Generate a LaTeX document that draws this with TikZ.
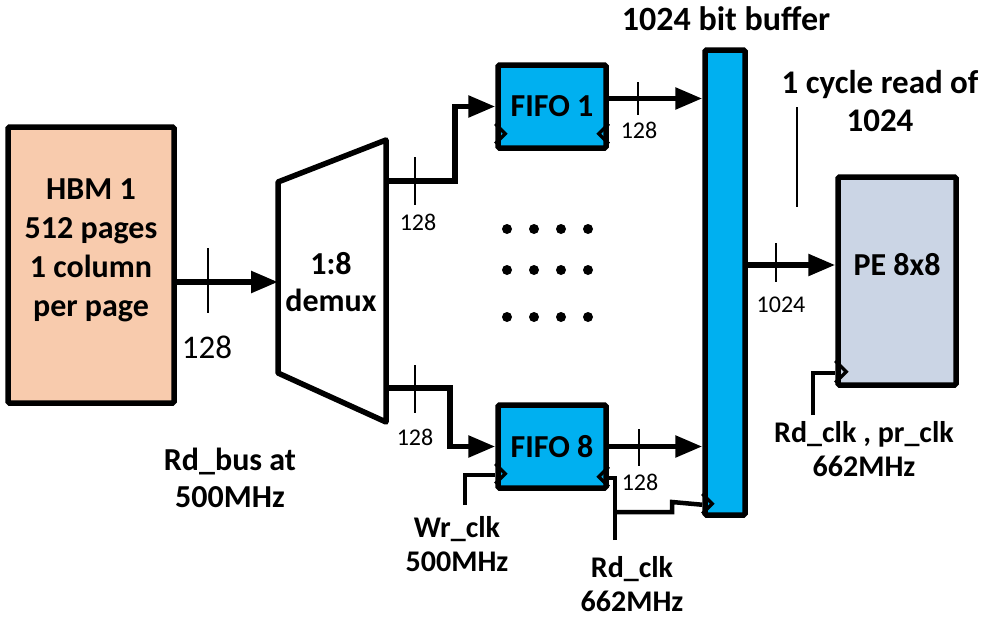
\documentclass[tikz,border=0pt]{standalone}
\usepackage{fontspec}
\setmainfont{Carlito}
\usetikzlibrary{positioning, arrows.meta}

\definecolor{hbmfill}{HTML}{F8CBAD}
\definecolor{fifofill}{HTML}{00B0F0}
\definecolor{pefill}{HTML}{CBD5E5}

\begin{document}
\begin{tikzpicture}[x=1pt, y=-1pt,
    blk/.style={draw, line width=5.5pt, rounded corners=1.5pt, inner sep=0pt, align=center, font=\bfseries\fontsize{32}{39}\selectfont},
    fifo/.style={blk, fill=fifofill, minimum width=108pt, minimum height=83pt},
    lbl/.style={align=center, font=\bfseries\fontsize{32}{37}\selectfont},
    clklbl/.style={align=center, font=\bfseries\fontsize{30}{34}\selectfont},
    bits/.style={font=\fontsize{24}{26}\selectfont},
    bus/.style={line width=5.5pt, -{Triangle[length=27pt, width=21pt]}},
    clk/.style={line width=4.5pt},
    chev/.style={line width=3.5pt},
    tick/.style={line width=1.8pt},
    dot/.style={circle, fill, inner sep=0pt, minimum size=10pt}
  ]
  \useasboundingbox (0,0) rectangle (991,621);

  % Blocks
  \node (hbm) [blk, fill=hbmfill, minimum width=166pt, minimum height=276pt] at (91,265) {};
  \node (hbmtxt) [lbl, font=\bfseries\fontsize{32}{39}\selectfont] at ([yshift=15pt]hbm.center) {HBM 1\\512 pages\\1 column\\per page};
  \node (demux) [lbl] at (331,282) {1:8\\demux};
  \draw [line width=5.5pt, line join=round] (278,182) -- (386,140) -- (386,422) -- (278,373) -- cycle;
  \coordinate (dmin) at (278,282);
  \coordinate (dmtop) at (386,181);
  \coordinate (dmbot) at (386,388);
  \node (fifo1) [fifo] at (552,106.5) {FIFO 1};
  \node (fifo8) [fifo] at (552,446.5) {FIFO 8};
  \node (buf) [blk, fill=fifofill, minimum width=40pt, minimum height=465pt] at (725,282.5) {};
  \node (pe) [blk, fill=pefill, minimum width=118pt, minimum height=208pt] at (897,281) {};
  \coordinate (pein) at ([yshift=16pt]pe.west);
  \node (petxt) [lbl] at (pe.center |- pein) {PE 8x8};

  % Clock marks
  \draw [chev] ([yshift=27pt]fifo1.south west) -- ++(10,10) -- ++(-10,10);
  \draw [chev] ([yshift=27pt]fifo1.south east) -- ++(-10,10) -- ++(10,10);
  \draw [chev] ([yshift=27pt]fifo8.south west) -- ++(10,10) -- ++(-10,10);
  \draw [chev] ([yshift=24pt]fifo8.south east) -- ++(-10,10) -- ++(10,10);
  \draw [chev] ([yshift=24pt]buf.south west) -- ++(10,10) -- ++(-10,10);
  \draw [chev] ([yshift=27pt]pe.south west) -- ++(11,11) -- ++(-11,11);

  % Dots
  \foreach \x in {507,534,561,588}
    \foreach \y in {229,270,317}
      \node [dot] at (\x,\y) {};

  % Buses
  \draw [bus] (hbm.east |- dmin) -- (dmin);
  \draw [bus] (dmtop) -- ++(69,0) |- (fifo1.west);
  \draw [bus] (dmbot) -- ++(64,0) |- (fifo8.west);
  \draw [bus] ([yshift=8pt]fifo1.east) -- ([yshift=8pt]fifo1.east -| buf.west);
  \draw [bus] (fifo8.east) -- (fifo8.east -| buf.west);
  \draw [bus] (buf.east |- pein) -- (pein);

  % Bus widths
  \draw [tick] (208,248) -- (208,313);
  \node (w0) [font=\fontsize{33}{36}\selectfont] at (207,347) {128};
  \draw [tick] (415,157) -- (415,205);
  \node (w1) [bits] at (418,222) {128};
  \draw [tick] (415,365) -- (415,413);
  \node (w2) [bits] at (415,437) {128};
  \draw [tick] (638,82) -- (638,115);
  \node (w3) [bits] at (639,130) {128};
  \draw [tick] (639,429) -- (639,466);
  \node (w4) [bits] at (640,482) {128};
  \draw [tick] (776,243) -- (776,282);
  \node (w5) [bits] at (781,305) {1024};

  % Clock wires
  \coordinate (wrin) at (465,505);
  \draw [clk] (wrin) |- ([yshift=16pt]fifo8.south west);
  \coordinate (rdin) at (615,540);
  \coordinate (rdtap) at (615,512);
  \draw [clk] (rdin) |- ([yshift=13pt]fifo8.south east);
  \draw [clk] (rdtap) -| ++(57,-10) -- ([yshift=13pt]buf.south west);
  \coordinate (peclk) at (813,415);
  \draw [clk] (peclk) |- ([yshift=15pt]pe.south west);

  % Callout
  \coordinate (callA) at (797,107);
  \coordinate (callB) at (797,207);
  \draw [line width=1.8pt] (callA) -- (callB);

  % Labels
  \node (buftitle) [lbl, font=\bfseries\fontsize{34}{38}\selectfont] at (726,19) {1024 bit buffer};
  \node (cycle) [lbl, font=\bfseries\fontsize{33}{38}\selectfont] at (880,101) {1 cycle read of\\1024};
  \node (rdbus) [lbl] at (230,478) {Rd\_bus at\\500MHz};
  \node (wrlbl) [clklbl] at (457,544) {Wr\_clk\\500MHz};
  \node (rdlbl) [clklbl] at (632,584) {Rd\_clk\\662MHz};
  \node (pelbl) [clklbl] at (864,449) {Rd\_clk , pr\_clk\\662MHz};
\end{tikzpicture}
\end{document}
